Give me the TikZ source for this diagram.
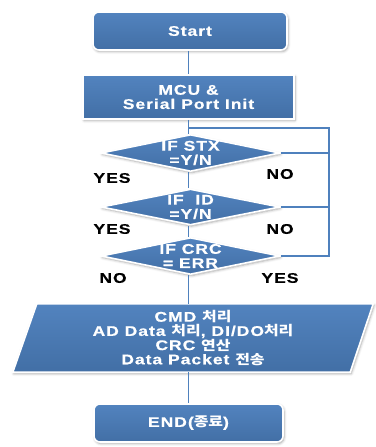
\documentclass[tikz,border=0pt]{standalone}
\usepackage{fontspec}
\setmainfont{Liberation Sans}[FakeStretch=1.25,LetterSpace=7,FakeBold=0.6]
\newfontfamily\krfont{Noto Sans CJK KR}[FakeStretch=1.2,Scale=0.95]
\newcommand{\K}[1]{{\krfont\bfseries #1}}
\usetikzlibrary{shapes.geometric,shadows.blur,calc}
\definecolor{boxblue}{HTML}{4B7EBC}
\definecolor{lineblue}{HTML}{4F81BD}
\begin{document}
\begin{tikzpicture}[x=1pt,y=-1pt,
  txt/.style={text=white,font=\bfseries\fontsize{14}{14.2}\selectfont,align=center},
  blk/.style={top color=boxblue!96!white,bottom color=boxblue!88!black,
    draw=white,line width=1.6pt,
    blur shadow={shadow xshift=1pt,shadow yshift=-1.5pt,shadow blur radius=2.5pt,shadow opacity=35}},
  term/.style={blk,txt,rounded corners=6pt,minimum width=194pt,minimum height=38pt,inner sep=0pt},
  procbox/.style={blk,txt,minimum width=211pt,minimum height=44pt,inner sep=0pt},
  dia/.style={blk,diamond,minimum width=179pt,minimum height=37pt,inner sep=0pt},
  yn/.style={font=\bfseries\fontsize{14}{14}\selectfont,text=black},
  link/.style={draw=lineblue,line width=1.8pt}]
\useasboundingbox (0,0) rectangle (375,447);

% junction of the return path
\coordinate (j) at (188.5,128);
\coordinate (r) at (329,128);

% flowchart blocks
\node[term] (start) at (190,31) {Start};
\node[procbox] (init) at (188.5,97) {MCU \&\\Serial Port Init};
\node[dia,label={[txt]center:{IF STX\\=Y/N}}] (stx) at (190.5,153) {};
\node[dia,minimum height=36pt,label={[txt]center:{IF\ \ ID\\=Y/N}}] (id) at (190.5,207) {};
\node[dia,label={[txt]center:{IF CRC\\= ERR}}] (crc) at (190.5,256) {};
\node[minimum width=360pt,minimum height=68pt,inner sep=0pt] (proc) at (193,338) {};
\node[term,minimum width=189pt] (end) at (188.5,423) {END(\K{종료})};

% data-processing parallelogram
\path[blk] ([xshift=24pt]proc.north west) -- (proc.north east)
  -- ([xshift=-23pt]proc.south east) -- (proc.south west) -- cycle;
\node[txt] at (proc.center) {CMD \K{처리}\\AD Data \K{처리}, DI/DO\K{처리}\\CRC \K{연산}\\Data Packet \K{전송}};

% vertical flow
\draw[link] (start.south -| init.north) -- (init.north);
\draw[link] (init.south) -- (init.south |- stx.north);
\draw[link] (init.south |- stx.south) -- (init.south |- id.north);
\draw[link] (init.south |- id.south) -- (init.south |- crc.north);
\draw[link] (init.south |- crc.south) -- (init.south |- proc.north);
\draw[link] (init.south |- proc.south) -- (end.north);

% return path on the right
\draw[link] (j) -- (r) -- (r |- crc.east) -- (crc.east);
\draw[link] (stx.east) -- (stx.east -| r);
\draw[link] (id.east) -- (id.east -| r);

% branch labels
\node[yn] (y1) at (112,178) {YES};
\node[yn] (n1) at (280,174) {NO};
\node[yn] (y2) at (112,229) {YES};
\node[yn] (n2) at (280,229) {NO};
\node[yn] (n3) at (113,278) {NO};
\node[yn] (y3) at (280,278) {YES};
\end{tikzpicture}
\end{document}
